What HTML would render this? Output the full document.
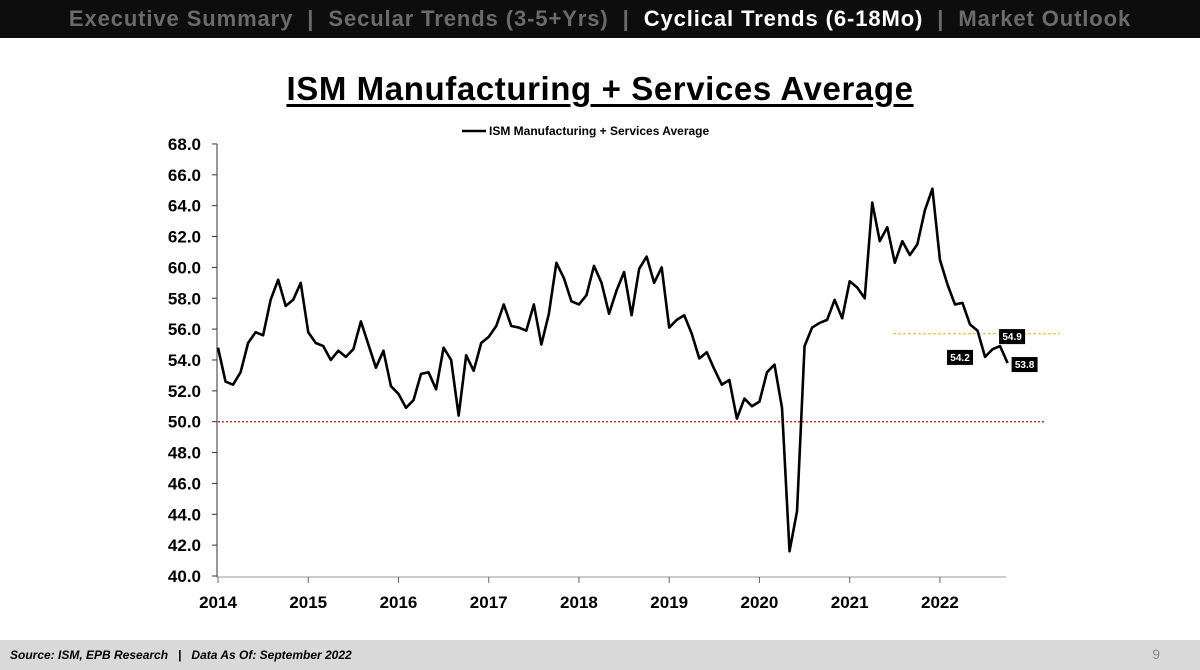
<!DOCTYPE html>
<html><head><meta charset="utf-8">
<style>
body{margin:0;width:1200px;height:670px;background:#fff;font-family:"Liberation Sans",Arial,sans-serif;overflow:hidden;position:relative}
.top{position:absolute;left:0;top:0;width:1200px;height:38px;background:#0d0d0d;color:#6b6b6b;font-weight:bold;font-size:22px;letter-spacing:0.9px;line-height:38px;text-align:center;white-space:nowrap}
.top .act{color:#fff}
.title{position:absolute;left:0;width:1200px;top:70px;text-align:center;font-weight:bold;font-size:33px;letter-spacing:0.6px;text-decoration:underline;text-underline-offset:4px}
.foot{position:absolute;left:0;top:640px;width:1200px;height:30px;background:#d9d9d9}
.foot span{position:absolute;left:10px;top:8px;font-size:12px;font-weight:bold;font-style:italic}
.foot b{position:absolute;right:40px;top:6px;font-size:14px;color:#888;font-weight:normal}
</style></head><body>
<div class="top">Executive Summary &nbsp;|&nbsp; Secular Trends (3-5+Yrs) &nbsp;|&nbsp; <span class="act">Cyclical Trends (6-18Mo)</span> &nbsp;|&nbsp; Market Outlook</div>
<div class="title">ISM Manufacturing + Services Average</div>
<svg id="chart" width="1200" height="670" style="position:absolute;left:0;top:0"></svg>
<div class="foot"><span>Source: ISM, EPB Research &nbsp; | &nbsp; Data As Of: September 2022</span><b>9</b></div>
<script>
const values=[54.8,52.6,52.4,53.2,55.1,55.8,55.6,57.9,59.2,57.5,57.9,59.0,
55.8,55.1,54.9,54.0,54.6,54.2,54.7,56.5,55.0,53.5,54.6,52.3,
51.8,50.9,51.4,53.1,53.2,52.1,54.8,54.0,50.4,54.3,53.3,55.1,
55.5,56.2,57.6,56.2,56.1,55.9,57.6,55.0,57.0,60.3,59.3,57.8,
57.6,58.2,60.1,59.0,57.0,58.5,59.7,56.9,59.9,60.7,59.0,60.0,
56.1,56.6,56.9,55.7,54.1,54.5,53.4,52.4,52.7,50.2,51.5,51.0,
51.3,53.2,53.7,50.9,41.6,44.2,54.9,56.1,56.4,56.6,57.9,56.7,
59.1,58.7,58.0,64.2,61.7,62.6,60.3,61.7,60.8,61.5,63.7,65.1,
60.5,58.9,57.6,57.7,56.3,55.9,54.2,54.7,54.9,53.8];
const yTicks=[40,42,44,46,48,50,52,54,56,58,60,62,64,66,68];
const xYears=[2014,2015,2016,2017,2018,2019,2020,2021,2022];
const labels=[{i:102,v:54.2,dx:-38,dy:-7},{i:104,v:54.9,dx:-1,dy:-17},{i:105,v:53.8,dx:4,dy:-6}];
const refLine=50, orangeLine=55.7;
const svg=document.getElementById('chart');const NS='http://www.w3.org/2000/svg';
const X=i=>218+i*7.52; const Y=v=>576-(v-40)*15.43;
function mk(t,a,p){const e=document.createElementNS(NS,t);for(const k in a)e.setAttribute(k,a[k]);(p||svg).appendChild(e);return e;}
let ax=mk('line',{x1:217,y1:144,x2:217,y2:577,stroke:'#333','stroke-width':1});


let bx=mk('line',{x1:217,y1:577,x2:1006,y2:577,stroke:'#999','stroke-width':1});


yTicks.forEach(v=>{mk('line',{x1:212,y1:Y(v),x2:217,y2:Y(v),stroke:'#333'});
 const t=mk('text',{x:201,y:Y(v)+6,'text-anchor':'end','font-size':17,'font-weight':'bold'});t.textContent=v.toFixed(1);
 
 });
xYears.forEach((yr,k)=>{const x=X(k*12);mk('line',{x1:x,y1:577,x2:x,y2:583,stroke:'#666'});
 const t=mk('text',{x:x,y:608,'text-anchor':'middle','font-size':17,'font-weight':'bold'});t.textContent=yr;
 
 });
let r=mk('line',{x1:218,y1:Y(refLine),x2:1046,y2:Y(refLine),stroke:'#c0392b','stroke-width':1.5,'stroke-dasharray':'2,2'});


let o=mk('line',{x1:893,y1:Y(orangeLine),x2:1060,y2:Y(orangeLine),stroke:'#f0b020','stroke-width':1,'stroke-dasharray':'3,2'});


let p=mk('polyline',{points:values.map((v,i)=>X(i)+','+Y(v)).join(' '),fill:'none',stroke:'#000','stroke-width':2.6,'stroke-linejoin':'round'});


labels.forEach(l=>{const x=X(l.i)+l.dx,y=Y(l.v)+l.dy;
 const g=mk('g',{});
 mk('rect',{x:x,y:y,width:26,height:15,fill:'#000'},g);
 const t=mk('text',{x:x+13,y:y+11,'text-anchor':'middle','font-size':10,'font-weight':'bold',fill:'#fff'},g);t.textContent=l.v.toFixed(1);});
let lg=mk('line',{x1:462,y1:131,x2:486,y2:131,stroke:'#000','stroke-width':2.5});


let lt=mk('text',{x:489,y:135,'font-size':12,'font-weight':'bold'});lt.textContent='ISM Manufacturing + Services Average';


</script>
</body></html>
